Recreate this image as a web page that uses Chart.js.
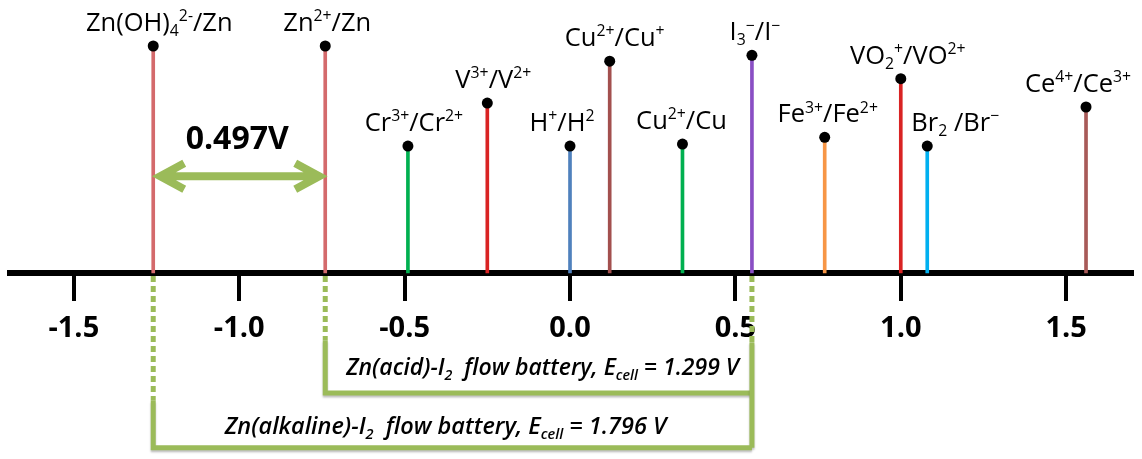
<!DOCTYPE html>
<html>
<head>
<meta charset="utf-8">
<script src="https://cdn.jsdelivr.net/npm/chart.js@4.4.0/dist/chart.umd.min.js"></script>
<style>
  body { margin: 0; background: #fff; }
</style>
</head>
<body>
<canvas id="chart" width="1142" height="459"></canvas>
<script>
// redox couples, standard potentials (V) and the drawn stem heights
var couples = ['Zn(OH)_{4}^{2-}/Zn', 'Zn^{2+}/Zn', 'Cr^{3+}/Cr^{2+}', 'V^{3+}/V^{2+}', 'H^{+}/H^{2}', 'Cu^{2+}/Cu^{+}',
  'Cu^{2+}/Cu', 'I_{3}^{\u2212}/I^{\u2212}', 'Fe^{3+}/Fe^{2+}', 'VO_{2}^{+}/VO^{2+}', 'Br_{2} /Br^{\u2212}', 'Ce^{4+}/Ce^{3+}'];
var potentials = [-1.26, -0.74, -0.49, -0.25, 0, 0.12, 0.34, 0.55, 0.77, 1.0, 1.08, 1.56];
var stemHeights = [9.3, 9.3, 5.2, 6.96, 5.2, 8.68, 5.28, 8.92, 5.56, 7.96, 5.2, 6.8];
var stemColors = ['#d46a6c', '#d46a6c', '#00b050', '#d92323', '#4f81bd', '#a3504e',
  '#00b050', '#8a4fc4', '#f79646', '#d92323', '#00b0f0', '#a85a58'];
var tickValues = [-1.5, -1.0, -0.5, 0, 0.5, 1.0, 1.5];
var labelShift = [6, 2, 6, 6, -8, 5, -1, 3, 3, 7, 28, -8];

var gapText = '0.497V';
var batteries = ['Zn(acid)-I_{2}  flow battery, E_{cell} = 1.299 V',
  'Zn(alkaline)-I_{2}  flow battery, E_{cell} = 1.796 V'];

var green = '#9bbb59';

function richText(ctx, str, x, y, size, style) {
  var parts = str.split(/(\^\{[^}]*\}|_\{[^}]*\})/).filter(Boolean).map(function(p) {
    if (p[0] === '^') return {t: p.slice(2, -1), s: size * 0.62, dy: -size * 0.38};
    if (p[0] === '_') return {t: p.slice(2, -1), s: size * 0.62, dy: size * 0.2};
    return {t: p, s: size, dy: 0};
  });
  var w = 0;
  parts.forEach(function(p) {
    ctx.font = style + ' ' + p.s + 'px "Open Sans"';
    p.w = ctx.measureText(p.t).width;
    w += p.w;
  });
  var cx = x - w / 2;
  ctx.textAlign = 'left';
  ctx.textBaseline = 'alphabetic';
  parts.forEach(function(p) {
    ctx.font = style + ' ' + p.s + 'px "Open Sans"';
    ctx.fillText(p.t, cx, y + p.dy);
    cx += p.w;
  });
}

var coupleLabels = {
  id: 'coupleLabels',
  afterDatasetsDraw: function(chart) {
    var ctx = chart.ctx;
    var pts = chart.getDatasetMeta(0).data;
    ctx.save();
    ctx.fillStyle = '#000';
    couples.forEach(function(c, i) {
      richText(ctx, c, pts[i].x + labelShift[i], pts[i].y - 15, 25.5, '500');
    });
    ctx.restore();
  }
};

var batteryMarks = {
  id: 'batteryMarks',
  afterDatasetsDraw: function(chart) {
    var ctx = chart.ctx, xs = chart.scales.x, ys = chart.scales.y;
    var xAlk = xs.getPixelForValue(potentials[0]);
    var xAcid = xs.getPixelForValue(potentials[1]);
    var xI = xs.getPixelForValue(potentials[7]);
    var y0 = ys.getPixelForValue(0) + 3;
    ctx.save();
    ctx.strokeStyle = green;

    // dashed drops from the axis
    ctx.lineWidth = 5;
    ctx.setLineDash([6, 4]);
    [[xAlk, -5.24], [xAcid, -2.76], [xI, -2.84]].forEach(function(d) {
      ctx.beginPath();
      ctx.moveTo(d[0], y0);
      ctx.lineTo(d[0], ys.getPixelForValue(d[1]));
      ctx.stroke();
    });
    ctx.setLineDash([]);

    // brackets
    ctx.shadowColor = 'rgba(0,0,0,0.25)';
    ctx.shadowOffsetY = 2;
    ctx.shadowBlur = 2;
    ctx.lineWidth = 5;
    var yAcid = ys.getPixelForValue(-4.92), yAlk = ys.getPixelForValue(-7.16);
    ctx.beginPath();
    ctx.moveTo(xAcid, ys.getPixelForValue(-2.76));
    ctx.lineTo(xAcid, yAcid);
    ctx.lineTo(xI, yAcid);
    ctx.stroke();
    ctx.beginPath();
    ctx.moveTo(xAlk, ys.getPixelForValue(-5.24));
    ctx.lineTo(xAlk, yAlk);
    ctx.lineTo(xI, yAlk);
    ctx.moveTo(xI, ys.getPixelForValue(-2.84));
    ctx.lineTo(xI, yAlk);
    ctx.stroke();
    ctx.shadowColor = 'transparent';

    ctx.fillStyle = '#000';
    richText(ctx, batteries[0], (xAcid + xI) / 2 + 4, ys.getPixelForValue(-4.2), 23, 'italic 600');
    richText(ctx, batteries[1], (xAlk + xI) / 2 - 7, ys.getPixelForValue(-6.6), 23.5, 'italic 600');

    // double arrow between the two zinc couples
    var ya = ys.getPixelForValue(3.96);
    var a1 = xAlk + 7, a2 = xAcid - 6;
    ctx.lineWidth = 8;
    ctx.lineJoin = 'miter';
    ctx.beginPath();
    ctx.moveTo(a1 + 4, ya);
    ctx.lineTo(a2 - 4, ya);
    ctx.moveTo(a1 + 24, ya - 13);
    ctx.lineTo(a1, ya);
    ctx.lineTo(a1 + 24, ya + 13);
    ctx.moveTo(a2 - 24, ya - 13);
    ctx.lineTo(a2, ya);
    ctx.lineTo(a2 - 24, ya + 13);
    ctx.stroke();

    ctx.font = 'bold 32px "Open Sans"';
    ctx.textAlign = 'center';
    ctx.textBaseline = 'alphabetic';
    ctx.fillText(gapText, (xAlk + xAcid) / 2 - 2, ys.getPixelForValue(5.08));
    ctx.restore();
  }
};

new Chart(document.getElementById('chart'), {
  type: 'bar',
  data: {
    datasets: [{
      type: 'scatter',
      order: 0,
      data: potentials.map(function(p, i) { return {x: p, y: stemHeights[i]}; }),
      pointRadius: 5.5,
      pointBackgroundColor: '#000',
      pointBorderWidth: 0
    }, {
      type: 'bar',
      order: 1,
      data: potentials.map(function(p, i) { return {x: p, y: stemHeights[i]}; }),
      backgroundColor: stemColors,
      barThickness: 3
    }]
  },
  options: {
    responsive: false,
    animation: false,
    layout: { padding: { left: 10, right: 10, top: 0, bottom: 0 } },
    plugins: { legend: { display: false }, tooltip: { enabled: false } },
    scales: {
      x: {
        type: 'linear',
        offset: false,
        position: { y: 0 },
        min: -1.693,
        max: 1.699,
        afterBuildTicks: function(s) { s.ticks = tickValues.map(function(v) { return {value: v}; }); },
        border: { display: true, width: 6, color: '#000' },
        grid: { display: true, offset: false, drawOnChartArea: false, drawTicks: true, tickLength: 25, lineWidth: 4, tickWidth: 4, tickColor: '#000', color: '#000' },
        ticks: {
          padding: 13,
          color: '#000',
          font: { family: 'Open Sans', size: 29, weight: 'bold' },
          callback: function(v) { return v.toFixed(1); }
        }
      },
      y: {
        display: false,
        min: -7.4,
        max: 10.96
      }
    }
  },
  plugins: [coupleLabels, batteryMarks]
});
</script>
</body>
</html>
